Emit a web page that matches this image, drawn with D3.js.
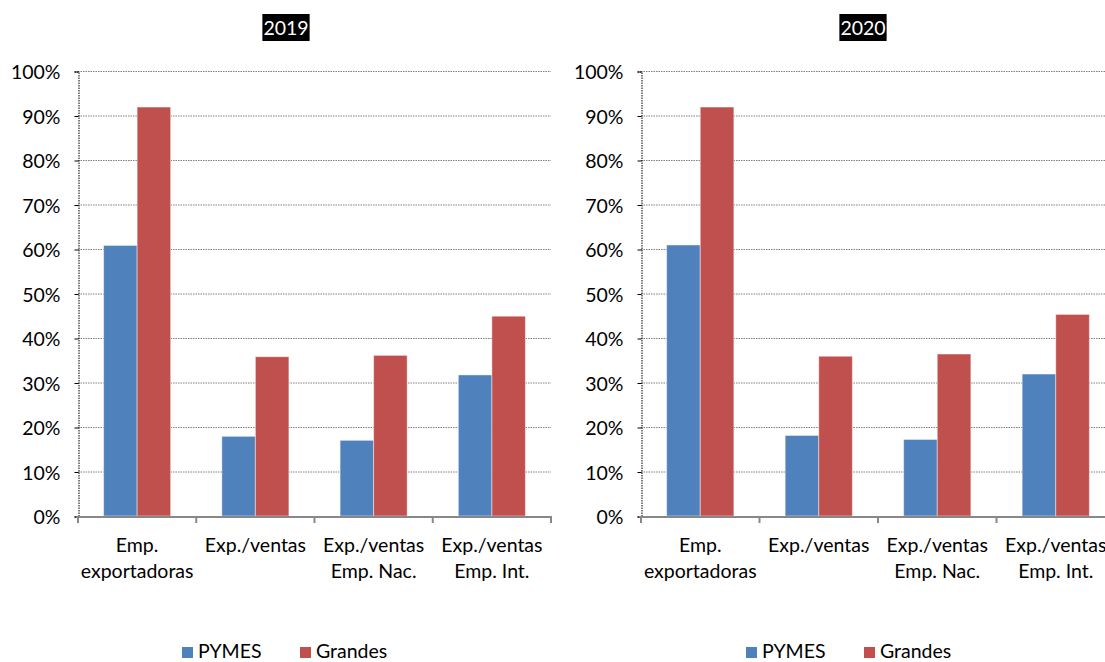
<!DOCTYPE html>
<html><head><meta charset="utf-8">
<script src="https://cdn.jsdelivr.net/npm/d3@7"></script>
<style>body{margin:0;background:#fff}svg{display:block}text{font-family:Lato,"Open Sans",sans-serif;fill:#000}</style>
</head><body><svg id="c" width="1105" height="662"></svg>
<script>
const categories = [["Emp.","exportadoras"],["Exp./ventas"],["Exp./ventas","Emp. Nac."],["Exp./ventas","Emp. Int."]];
const seriesNames = ["PYMES","Grandes"];
const colors = ["#4F81BD","#C0504D"];
const years = ["2019","2020"];
const pymes2019 = [0.608,0.179,0.170,0.317];
const grandes2019 = [0.919,0.358,0.361,0.449];
const pymes2020 = [0.609,0.181,0.172,0.319];
const grandes2020 = [0.919,0.359,0.364,0.453];
const yTicks = [0,0.1,0.2,0.3,0.4,0.5,0.6,0.7,0.8,0.9,1.0];

const data = [[pymes2019,grandes2019],[pymes2020,grandes2020]];
const svg = d3.select("#c");
const panels = [{x0:78,x1:551,cx:286,lx:182},{x0:641,x1:1115,cx:863,lx:746}];
const yTop=71, yBot=516;
const y = d3.scaleLinear().domain([0,1]).range([yBot,yTop]);
const keys = categories.map((c,i)=>"c"+i);
const FS = "19.5px";

panels.forEach((p,pi)=>{
  const g = svg.append("g");
  const x = d3.scaleBand().domain(keys).range([p.x0,p.x1]).padding(0);
  const bw = x.bandwidth();
  const xs = d3.scaleBand().domain(seriesNames).range([bw*0.2165,bw*0.7835]).padding(0);
  // gridlines
  g.append("g").selectAll("line").data(yTicks.slice(1)).join("line")
    .attr("x1",p.x0).attr("x2",p.x1).attr("y1",d=>y(d)+0.5).attr("y2",d=>y(d)+0.5)
    .attr("stroke","#808080").attr("stroke-width",1).attr("stroke-dasharray","1.5,1");
  // y axis
  const ya = d3.axisLeft(y).tickValues(yTicks).tickFormat(d=>Math.round(d*100)+"%").tickSize(4).tickPadding(14);
  const yg = g.append("g").attr("transform",`translate(${p.x0+0.5},0.5)`).call(ya);
  yg.select(".domain").attr("stroke","#000").attr("stroke-dasharray","1.5,1");
  yg.selectAll(".tick line").attr("stroke","#000");
  yg.selectAll("text").attr("font-size",FS).attr("fill","#000").attr("dy","0.36em");
  // bars
  seriesNames.forEach((s,si)=>{
    g.append("g").selectAll("rect").data(data[pi][si]).join("rect")
      .attr("x",(d,i)=>x(keys[i])+xs(s)).attr("width",xs.bandwidth())
      .attr("y",d=>y(d)).attr("height",d=>yBot-y(d))
      .attr("fill",colors[si]).attr("stroke","rgba(255,255,255,0.45)").attr("stroke-width",1);
  });
  // x axis
  const xa = d3.axisBottom(x).tickValues([]).tickSize(0);
  const xg = g.append("g").attr("transform",`translate(0,${yBot+0.5})`).call(xa);
  xg.select(".domain").attr("stroke","#888").attr("stroke-width",2);
  const bounds = keys.map(k=>x(k)).concat([p.x1]);
  g.append("g").selectAll("line").data(bounds).join("line")
    .attr("x1",d=>d).attr("x2",d=>d).attr("y1",yBot).attr("y2",yBot+7)
    .attr("stroke","#888").attr("stroke-width",2);
  // x labels
  categories.forEach((lines,i)=>{
    const t = g.append("text").attr("text-anchor","middle").attr("font-size",FS)
      .attr("x",x(keys[i])+bw/2).attr("y",552);
    lines.forEach((l,li)=>t.append("tspan").attr("x",x(keys[i])+bw/2).attr("y",552+li*26).text(l));
  });
  // title
  const tg = g.append("g");
  const bg = tg.append("rect").attr("fill","#000");
  const tt = tg.append("text").attr("x",p.cx).attr("y",35).attr("text-anchor","middle")
    .attr("font-size",FS).style("fill","#fff").text(years[pi]);
  const bb = tt.node().getBBox();
  bg.attr("x",bb.x-1).attr("y",14).attr("width",bb.width+2).attr("height",27);
  // legend
  const lx = [p.lx, p.lx+118];
  seriesNames.forEach((s,si)=>{
    g.append("rect").attr("x",lx[si]).attr("y",647).attr("width",11).attr("height",11).attr("fill",colors[si]);
    g.append("text").attr("x",lx[si]+16).attr("y",658).attr("font-size",FS).text(s);
  });
});
</script></body></html>
